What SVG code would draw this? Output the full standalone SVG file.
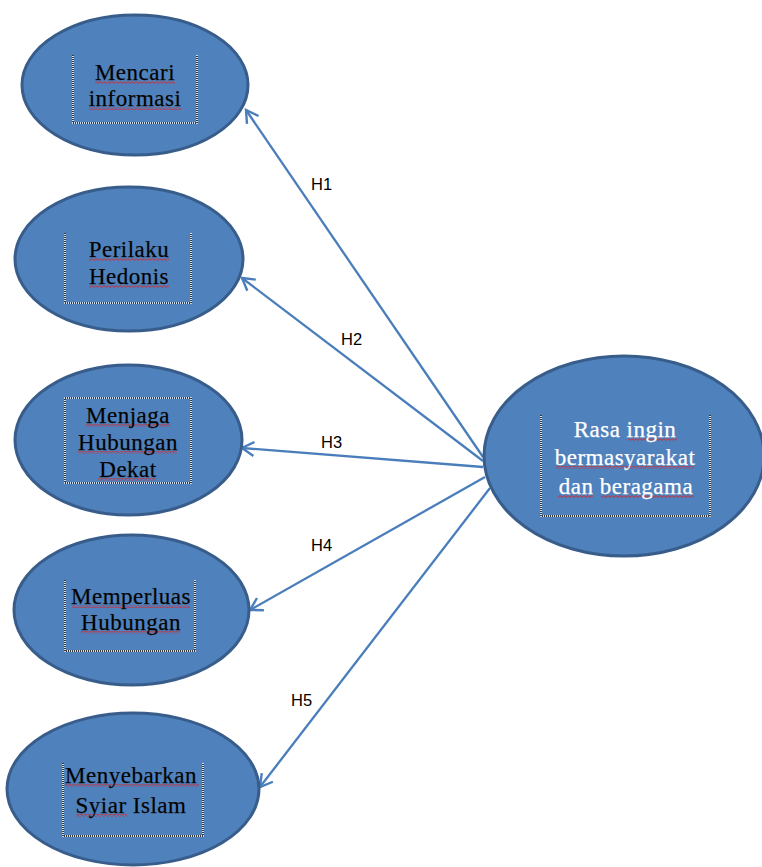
<svg xmlns="http://www.w3.org/2000/svg" width="762" height="867" viewBox="0 0 762 867">
  <style>
    .node { fill: #4F81BD; stroke: #385D8A; stroke-width: 3; }
    .box { fill: none; stroke: #ffffff; stroke-width: 1.5; }
    .dots { fill: none; stroke: #000000; stroke-width: 1.5; stroke-dasharray: 1 1; }
    .t { font-family: "Liberation Serif", "Times New Roman", serif; font-size: 23px; letter-spacing: 0.5px; text-anchor: middle; fill: #000000; stroke: #1a1a1a; stroke-width: 0.25; }
    .tw { fill: #ffffff; stroke: #ffffff; }
    .lbl { font-family: "Liberation Sans", Arial, sans-serif; font-size: 16.5px; fill: #000000; }
    .conn { stroke: #4A7EBB; stroke-width: 2.3; fill: none; marker-end: url(#arr); }
    .sq { fill: url(#squig); }
  </style>
  <defs>
    <marker id="arr" markerUnits="userSpaceOnUse" markerWidth="20" markerHeight="20" viewBox="-14 -10 16 20" refX="0" refY="0" orient="auto">
      <path d="M-12,-7 L0,0 L-12,7" fill="none" stroke="#4A7EBB" stroke-width="2.4" stroke-linejoin="miter"/>
    </marker>
    <pattern id="squig" width="4" height="3" patternUnits="userSpaceOnUse">
      <path d="M0,0.6 L2,2.4 L4,0.6" fill="none" stroke="#E02020" stroke-width="0.9"/>
    </pattern>
  </defs>

  <rect x="0" y="0" width="762" height="867" fill="#ffffff"/>

  <g id="connectors">
    <line class="conn" x1="483" y1="457" x2="246" y2="110"/>
    <line class="conn" x1="483" y1="461" x2="242" y2="278"/>
    <line class="conn" x1="483" y1="467" x2="242" y2="448"/>
    <line class="conn" x1="485" y1="477" x2="250" y2="610"/>
    <line class="conn" x1="490" y1="488" x2="260" y2="787"/>
    <text class="lbl" x="311" y="190">H1</text>
    <text class="lbl" x="341" y="345">H2</text>
    <text class="lbl" x="321" y="448">H3</text>
    <text class="lbl" x="311" y="551">H4</text>
    <text class="lbl" x="291" y="706">H5</text>
  </g>

  <g id="node-mencari">
    <ellipse class="node" cx="135" cy="85" rx="113" ry="70"/>
    <path class="box" d="M73,55 V123 H197 V55"/>
    <path class="dots" d="M73,55 V123 H197 V55"/>
    <rect class="sq" x="95" y="81" width="80" height="3"/>
    <rect class="sq" x="89" y="107" width="92" height="3"/>
    <text class="t" x="135" y="80">Mencari</text>
    <text class="t" x="135" y="106">informasi</text>
  </g>

  <g id="node-perilaku">
    <ellipse class="node" cx="129" cy="259" rx="114" ry="72"/>
    <path class="box" d="M65,233 V303 H191 V233"/>
    <path class="dots" d="M65,233 V303 H191 V233"/>
    <rect class="sq" x="89" y="258" width="80" height="3"/>
    <rect class="sq" x="89" y="285" width="80" height="3"/>
    <text class="t" x="129" y="257">Perilaku</text>
    <text class="t" x="129" y="284">Hedonis</text>
  </g>

  <g id="node-menjaga">
    <ellipse class="node" cx="128.5" cy="440" rx="113.5" ry="75"/>
    <rect class="box" x="65" y="398" width="126" height="85"/>
    <rect class="dots" x="65" y="398" width="126" height="85"/>
    <rect class="sq" x="86" y="424" width="84" height="3"/>
    <rect class="sq" x="78" y="451" width="99" height="3"/>
    <rect class="sq" x="98" y="478" width="58" height="3"/>
    <text class="t" x="128" y="423">Menjaga</text>
    <text class="t" x="128" y="450">Hubungan</text>
    <text class="t" x="128" y="477">Dekat</text>
  </g>

  <g id="node-memperluas">
    <ellipse class="node" cx="131.5" cy="610" rx="117.5" ry="75"/>
    <path class="box" d="M65,580 V651 H195 V580"/>
    <path class="dots" d="M65,580 V651 H195 V580"/>
    <rect class="sq" x="72" y="605" width="118" height="3"/>
    <rect class="sq" x="81" y="631" width="99" height="3"/>
    <text class="t" x="131" y="604">Memperluas</text>
    <text class="t" x="131" y="630">Hubungan</text>
  </g>

  <g id="node-menyebarkan">
    <ellipse class="node" cx="133" cy="789" rx="126" ry="76"/>
    <path class="box" d="M63,763 V836 H203 V763"/>
    <path class="dots" d="M63,763 V836 H203 V763"/>
    <rect class="sq" x="65" y="784" width="134" height="3"/>
    <rect class="sq" x="76" y="814" width="51" height="3"/>
    <text class="t" x="131" y="783">Menyebarkan</text>
    <text class="t" x="131" y="813">Syiar Islam</text>
  </g>

  <g id="node-rasa">
    <ellipse class="node" cx="624" cy="456" rx="140" ry="100"/>
    <path class="box" d="M541,415 V516 H710 V415"/>
    <path class="dots" d="M541,415 V516 H710 V415"/>
    <rect class="sq" x="628" y="438" width="49" height="3"/>
    <rect class="sq" x="556" y="466" width="138" height="3"/>
    <rect class="sq" x="558" y="495" width="35" height="3"/>
    <rect class="sq" x="601" y="495" width="93" height="3"/>
    <text class="t tw" x="625" y="437">Rasa ingin</text>
    <text class="t tw" x="625" y="465">bermasyarakat</text>
    <text class="t tw" x="626" y="494">dan beragama</text>
  </g>
</svg>
